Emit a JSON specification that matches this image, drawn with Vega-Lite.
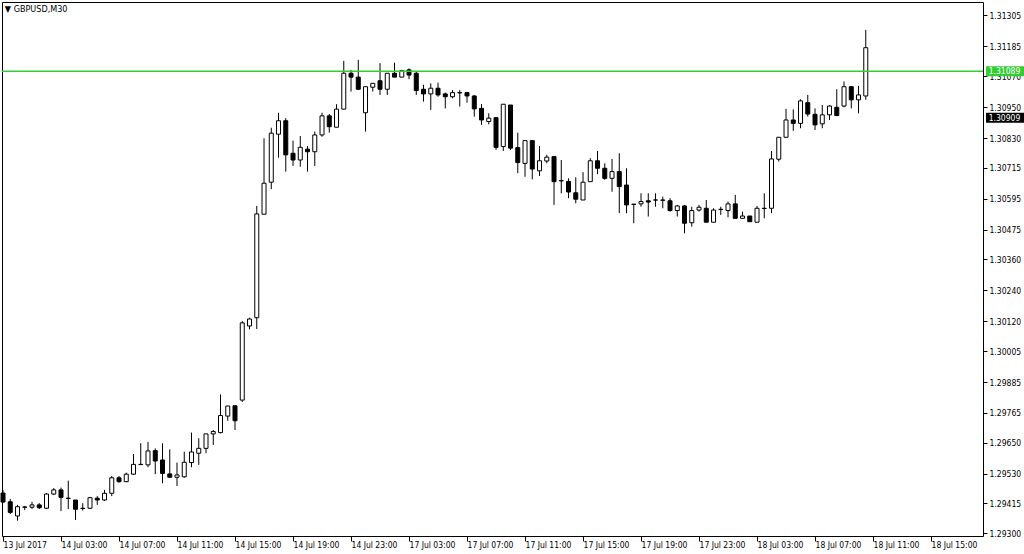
{
  "$schema": "https://vega.github.io/schema/vega-lite/v6.json",
  "width": 981,
  "height": 534,
  "autosize": {"type": "none"},
  "padding": {"left": 2, "top": 2, "right": 41, "bottom": 18},
  "background": "white",
  "config": {
    "view": {"stroke": "black", "strokeWidth": 1},
    "font": "DejaVu Sans Condensed",
    "axis": {"labelOverlap": false, "labelBound": false, "labelFlush": false, "grid": false},
    "scale": {"continuousPadding": 0}
  },
  "datasets": {
    "candles": [
      {"i":0,"o":1.29455,"h":1.29467,"l":1.29416,"c":1.29420},
      {"i":1,"o":1.29421,"h":1.29432,"l":1.29374,"c":1.29380},
      {"i":2,"o":1.29366,"h":1.29409,"l":1.29348,"c":1.29402},
      {"i":3,"o":1.29401,"h":1.29405,"l":1.29389,"c":1.29400},
      {"i":4,"o":1.29400,"h":1.29421,"l":1.29393,"c":1.29409},
      {"i":5,"o":1.29409,"h":1.29416,"l":1.29393,"c":1.29398},
      {"i":6,"o":1.29396,"h":1.29455,"l":1.29393,"c":1.29451},
      {"i":7,"o":1.29451,"h":1.29474,"l":1.29447,"c":1.29467},
      {"i":8,"o":1.29467,"h":1.29476,"l":1.29385,"c":1.29438},
      {"i":9,"o":1.29435,"h":1.29503,"l":1.29393,"c":1.29434},
      {"i":10,"o":1.29428,"h":1.29428,"l":1.29351,"c":1.29392},
      {"i":11,"o":1.29396,"h":1.29416,"l":1.29387,"c":1.29395},
      {"i":12,"o":1.29396,"h":1.29440,"l":1.29393,"c":1.29437},
      {"i":13,"o":1.29435,"h":1.29443,"l":1.29409,"c":1.29428},
      {"i":14,"o":1.29428,"h":1.29467,"l":1.29424,"c":1.29454},
      {"i":15,"o":1.29454,"h":1.29521,"l":1.29443,"c":1.29514},
      {"i":16,"o":1.29514,"h":1.29521,"l":1.29495,"c":1.29499},
      {"i":17,"o":1.29499,"h":1.29534,"l":1.29497,"c":1.29528},
      {"i":18,"o":1.29528,"h":1.29606,"l":1.29525,"c":1.29566},
      {"i":19,"o":1.29566,"h":1.29648,"l":1.29564,"c":1.29565},
      {"i":20,"o":1.29564,"h":1.29653,"l":1.29555,"c":1.29618},
      {"i":21,"o":1.29619,"h":1.29628,"l":1.29528,"c":1.29579},
      {"i":22,"o":1.29583,"h":1.29648,"l":1.29493,"c":1.29531},
      {"i":23,"o":1.29529,"h":1.29624,"l":1.29516,"c":1.29516},
      {"i":24,"o":1.29516,"h":1.29573,"l":1.29482,"c":1.29525},
      {"i":25,"o":1.29518,"h":1.29615,"l":1.29514,"c":1.29574},
      {"i":26,"o":1.29573,"h":1.29689,"l":1.29555,"c":1.29614},
      {"i":27,"o":1.29609,"h":1.29667,"l":1.29564,"c":1.29628},
      {"i":28,"o":1.29628,"h":1.29684,"l":1.29609,"c":1.29684},
      {"i":29,"o":1.29684,"h":1.29699,"l":1.29641,"c":1.29693},
      {"i":30,"o":1.29689,"h":1.29837,"l":1.29686,"c":1.29755},
      {"i":31,"o":1.29753,"h":1.29792,"l":1.29735,"c":1.29792},
      {"i":32,"o":1.29793,"h":1.29793,"l":1.29699,"c":1.29735},
      {"i":33,"o":1.29815,"h":1.30121,"l":1.29808,"c":1.30114},
      {"i":34,"o":1.30102,"h":1.30134,"l":1.30089,"c":1.30129},
      {"i":35,"o":1.30134,"h":1.30567,"l":1.30090,"c":1.30536},
      {"i":36,"o":1.30535,"h":1.30829,"l":1.30535,"c":1.30655},
      {"i":37,"o":1.30659,"h":1.30870,"l":1.30632,"c":1.30849},
      {"i":38,"o":1.30845,"h":1.30928,"l":1.30754,"c":1.30897},
      {"i":39,"o":1.30897,"h":1.30907,"l":1.30700,"c":1.30765},
      {"i":40,"o":1.30771,"h":1.30820,"l":1.30722,"c":1.30745},
      {"i":41,"o":1.30745,"h":1.30838,"l":1.30719,"c":1.30794},
      {"i":42,"o":1.30787,"h":1.30799,"l":1.30700,"c":1.30777},
      {"i":43,"o":1.30777,"h":1.30855,"l":1.30722,"c":1.30842},
      {"i":44,"o":1.30842,"h":1.30928,"l":1.30835,"c":1.30916},
      {"i":45,"o":1.30916,"h":1.30923,"l":1.30851,"c":1.30874},
      {"i":46,"o":1.30872,"h":1.30961,"l":1.30872,"c":1.30942},
      {"i":47,"o":1.30942,"h":1.31129,"l":1.30942,"c":1.31081},
      {"i":48,"o":1.31081,"h":1.31094,"l":1.31010,"c":1.31066},
      {"i":49,"o":1.31066,"h":1.31133,"l":1.31016,"c":1.31019},
      {"i":50,"o":1.30928,"h":1.31029,"l":1.30855,"c":1.31029},
      {"i":51,"o":1.31027,"h":1.31042,"l":1.31010,"c":1.31042},
      {"i":52,"o":1.31052,"h":1.31120,"l":1.30997,"c":1.31019},
      {"i":53,"o":1.31019,"h":1.31081,"l":1.30997,"c":1.31081},
      {"i":54,"o":1.31081,"h":1.31122,"l":1.31066,"c":1.31066},
      {"i":55,"o":1.31066,"h":1.31094,"l":1.31066,"c":1.31091},
      {"i":56,"o":1.31094,"h":1.31100,"l":1.31058,"c":1.31074},
      {"i":57,"o":1.31081,"h":1.31087,"l":1.30997,"c":1.31014},
      {"i":58,"o":1.31019,"h":1.31036,"l":1.30971,"c":1.31001},
      {"i":59,"o":1.31001,"h":1.31042,"l":1.30939,"c":1.31023},
      {"i":60,"o":1.31023,"h":1.31045,"l":1.30990,"c":1.30997},
      {"i":61,"o":1.31001,"h":1.31006,"l":1.30945,"c":1.30990},
      {"i":62,"o":1.30990,"h":1.31016,"l":1.30984,"c":1.31006},
      {"i":63,"o":1.31006,"h":1.31016,"l":1.30952,"c":1.31005},
      {"i":64,"o":1.31006,"h":1.31009,"l":1.30967,"c":1.30993},
      {"i":65,"o":1.30993,"h":1.30997,"l":1.30913,"c":1.30943},
      {"i":66,"o":1.30945,"h":1.30962,"l":1.30881,"c":1.30900},
      {"i":67,"o":1.30894,"h":1.30926,"l":1.30883,"c":1.30907},
      {"i":68,"o":1.30909,"h":1.30909,"l":1.30784,"c":1.30794},
      {"i":69,"o":1.30797,"h":1.30961,"l":1.30780,"c":1.30961},
      {"i":70,"o":1.30958,"h":1.30958,"l":1.30784,"c":1.30791},
      {"i":71,"o":1.30793,"h":1.30851,"l":1.30694,"c":1.30735},
      {"i":72,"o":1.30732,"h":1.30820,"l":1.30680,"c":1.30820},
      {"i":73,"o":1.30820,"h":1.30820,"l":1.30670,"c":1.30710},
      {"i":74,"o":1.30703,"h":1.30799,"l":1.30683,"c":1.30742},
      {"i":75,"o":1.30741,"h":1.30765,"l":1.30732,"c":1.30756},
      {"i":76,"o":1.30758,"h":1.30758,"l":1.30571,"c":1.30661},
      {"i":77,"o":1.30665,"h":1.30745,"l":1.30616,"c":1.30664},
      {"i":78,"o":1.30662,"h":1.30674,"l":1.30597,"c":1.30621},
      {"i":79,"o":1.30618,"h":1.30678,"l":1.30577,"c":1.30593},
      {"i":80,"o":1.30590,"h":1.30698,"l":1.30590,"c":1.30659},
      {"i":81,"o":1.30661,"h":1.30752,"l":1.30661,"c":1.30742},
      {"i":82,"o":1.30742,"h":1.30780,"l":1.30690,"c":1.30713},
      {"i":83,"o":1.30713,"h":1.30732,"l":1.30668,"c":1.30674},
      {"i":84,"o":1.30674,"h":1.30749,"l":1.30622,"c":1.30700},
      {"i":85,"o":1.30700,"h":1.30771,"l":1.30539,"c":1.30642},
      {"i":86,"o":1.30648,"h":1.30713,"l":1.30539,"c":1.30571},
      {"i":87,"o":1.30574,"h":1.30574,"l":1.30500,"c":1.30573},
      {"i":88,"o":1.30575,"h":1.30616,"l":1.30564,"c":1.30584},
      {"i":89,"o":1.30587,"h":1.30616,"l":1.30526,"c":1.30582},
      {"i":90,"o":1.30590,"h":1.30616,"l":1.30564,"c":1.30590},
      {"i":91,"o":1.30590,"h":1.30603,"l":1.30558,"c":1.30589},
      {"i":92,"o":1.30587,"h":1.30597,"l":1.30545,"c":1.30549},
      {"i":93,"o":1.30549,"h":1.30571,"l":1.30526,"c":1.30567},
      {"i":94,"o":1.30567,"h":1.30571,"l":1.30461,"c":1.30500},
      {"i":95,"o":1.30502,"h":1.30564,"l":1.30487,"c":1.30549},
      {"i":96,"o":1.30551,"h":1.30571,"l":1.30545,"c":1.30562},
      {"i":97,"o":1.30558,"h":1.30590,"l":1.30504,"c":1.30504},
      {"i":98,"o":1.30504,"h":1.30558,"l":1.30504,"c":1.30551},
      {"i":99,"o":1.30554,"h":1.30564,"l":1.30532,"c":1.30553},
      {"i":100,"o":1.30549,"h":1.30584,"l":1.30523,"c":1.30575},
      {"i":101,"o":1.30575,"h":1.30610,"l":1.30519,"c":1.30519},
      {"i":102,"o":1.30519,"h":1.30545,"l":1.30519,"c":1.30528},
      {"i":103,"o":1.30528,"h":1.30528,"l":1.30506,"c":1.30506},
      {"i":104,"o":1.30504,"h":1.30567,"l":1.30504,"c":1.30558},
      {"i":105,"o":1.30558,"h":1.30616,"l":1.30519,"c":1.30557},
      {"i":106,"o":1.30558,"h":1.30780,"l":1.30539,"c":1.30749},
      {"i":107,"o":1.30748,"h":1.30833,"l":1.30739,"c":1.30833},
      {"i":108,"o":1.30833,"h":1.30943,"l":1.30833,"c":1.30900},
      {"i":109,"o":1.30900,"h":1.30941,"l":1.30858,"c":1.30887},
      {"i":110,"o":1.30887,"h":1.30980,"l":1.30868,"c":1.30974},
      {"i":111,"o":1.30967,"h":1.30997,"l":1.30913,"c":1.30923},
      {"i":112,"o":1.30922,"h":1.30945,"l":1.30861,"c":1.30881},
      {"i":113,"o":1.30885,"h":1.30958,"l":1.30868,"c":1.30920},
      {"i":114,"o":1.30920,"h":1.30958,"l":1.30900,"c":1.30954},
      {"i":115,"o":1.30949,"h":1.31019,"l":1.30917,"c":1.30917},
      {"i":116,"o":1.30954,"h":1.31049,"l":1.30949,"c":1.31029},
      {"i":117,"o":1.31029,"h":1.31029,"l":1.30945,"c":1.30978},
      {"i":118,"o":1.30978,"h":1.31032,"l":1.30926,"c":1.30997},
      {"i":119,"o":1.30993,"h":1.31249,"l":1.30978,"c":1.31180}
    ],
    "levels": [
      {"price": 1.31089, "kind": "line"},
      {"price": 1.30909, "kind": "bid"}
    ],
    "header": [
      {"label": "▼ GBPUSD,M30"}
    ]
  },
  "layer": [
    {
      "data": {"name": "candles"},
      "mark": {"type": "rule", "color": "black", "strokeWidth": 1},
      "encoding": {
        "x": {
          "field": "i", "type": "quantitative",
          "scale": {"domain": [-0.14, 135.17], "nice": false, "zero": false, "padding": 0},
          "axis": {
            "orient": "bottom", "title": null, "grid": false, "domain": false,
            "values": [0, 8, 16, 24, 32, 40, 48, 56, 64, 72, 80, 88, 96, 104, 112, 120, 128],
            "tickCount": 40,
            "labelExpr": "['13 Jul 2017','14 Jul 03:00','14 Jul 07:00','14 Jul 11:00','14 Jul 15:00','14 Jul 19:00','14 Jul 23:00','17 Jul 03:00','17 Jul 07:00','17 Jul 11:00','17 Jul 15:00','17 Jul 19:00','17 Jul 23:00','18 Jul 03:00','18 Jul 07:00','18 Jul 11:00','18 Jul 15:00'][round(datum.value / 8)]",
            "tickSize": 5, "tickColor": "black", "labelAlign": "left", "labelBaseline": "middle",
            "labelPadding": 3, "labelDx": 1, "labelColor": "black", "labelFontSize": 8.5,
            "labelFont": "DejaVu Sans Condensed", "labelOverlap": false, "labelFlush": false, "labelBound": false
          }
        },
        "y": {
          "field": "l", "type": "quantitative",
          "scale": {"domain": [1.292885, 1.31357], "nice": false, "zero": false, "padding": 0},
          "axis": {
            "orient": "right", "title": null, "grid": false, "domain": false,
            "values": [1.31305, 1.31185, 1.3107, 1.3095, 1.3083, 1.30715, 1.30595, 1.30475, 1.3036, 1.3024, 1.3012, 1.30005, 1.29885, 1.29765, 1.2965, 1.2953, 1.29415, 1.293],
            "tickCount": 40,
            "format": ".5f", "tickSize": 4, "tickColor": "black", "labelPadding": 2,
            "labelColor": "black", "labelFontSize": 8.5, "labelFont": "DejaVu Sans Condensed",
            "labelOverlap": false, "labelBound": false
          }
        },
        "y2": {"field": "h"}
      }
    },
    {
      "data": {"name": "candles"},
      "mark": {"type": "bar", "size": 4, "stroke": "black", "strokeWidth": 1},
      "encoding": {
        "x": {"field": "i", "type": "quantitative"},
        "y": {"field": "o", "type": "quantitative"},
        "y2": {"field": "c"},
        "fill": {"condition": {"test": "datum.c >= datum.o", "value": "white"}, "value": "black"}
      }
    },
    {
      "data": {"name": "levels"},
      "transform": [{"filter": "datum.kind == 'line'"}],
      "mark": {"type": "rule", "color": "#32CD32", "strokeWidth": 1.5},
      "encoding": {"y": {"field": "price", "type": "quantitative"}}
    },
    {
      "data": {"name": "levels"},
      "mark": {"type": "bar", "size": 10, "clip": false},
      "encoding": {
        "y": {"field": "price", "type": "quantitative"},
        "x": {"datum": 135.59, "type": "quantitative"},
        "x2": {"datum": 141},
        "color": {"field": "kind", "type": "nominal", "scale": {"domain": ["line", "bid"], "range": ["#32CD32", "#000000"]}, "legend": null}
      }
    },
    {
      "data": {"name": "levels"},
      "mark": {"type": "text", "align": "left", "baseline": "middle", "color": "white", "fontSize": 8.5, "font": "DejaVu Sans Condensed", "clip": false},
      "encoding": {
        "y": {"field": "price", "type": "quantitative"},
        "x": {"datum": 135.95, "type": "quantitative"},
        "text": {"field": "price", "type": "quantitative", "format": ".5f"}
      }
    },
    {
      "data": {"name": "header"},
      "mark": {"type": "text", "align": "left", "baseline": "middle", "color": "black", "fontSize": 9, "font": "DejaVu Sans Condensed"},
      "encoding": {
        "x": {"datum": 0.25, "type": "quantitative"},
        "y": {"datum": 1.31329, "type": "quantitative"},
        "text": {"field": "label", "type": "nominal"}
      }
    }
  ]
}
